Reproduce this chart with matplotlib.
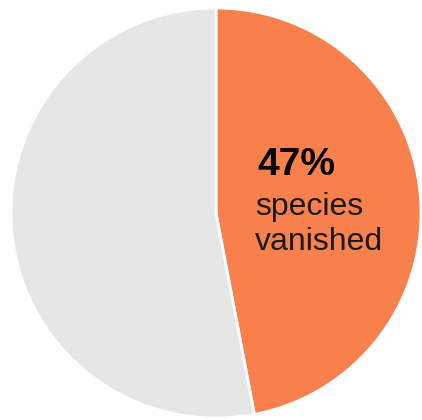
import matplotlib
matplotlib.use("Agg")
import matplotlib.pyplot as plt

matplotlib.rcParams['font.family'] = ['Liberation Sans', 'DejaVu Sans']

# 資料
labels = ['vanished', 'remaining']
values = [47, 53]
colors = ['#F8804C', '#E6E6E6']

fig = plt.figure(figsize=(4.22, 4.20), dpi=100)
# 圓心約在 (216, 213) px，半徑約 205 px
cx, cy, r = 216, 420 - 213, 205
ax = fig.add_axes([(cx - r) / 422, (cy - r) / 420, 2 * r / 422, 2 * r / 420])
ax.pie(values, colors=colors, startangle=90, counterclock=False, radius=1,
       wedgeprops=dict(edgecolor='white', linewidth=2))
ax.set_xlim(-1, 1)
ax.set_ylim(-1, 1)
ax.set_aspect('auto')
ax.axis('off')

ax.text(0.2, 0.185, f"{values[0]}%", fontsize=28, fontweight='bold', va='baseline', ha='left', color='black')
ax.text(0.19, -0.01, "species", fontsize=23, va='baseline', ha='left', color='#1a1a1a')
ax.text(0.19, -0.18, "vanished", fontsize=23, va='baseline', ha='left', color='#1a1a1a')

fig.savefig("out.png", dpi=100)
